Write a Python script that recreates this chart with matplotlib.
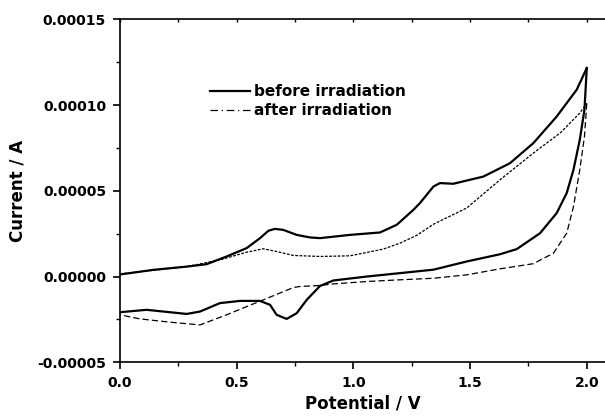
import matplotlib
matplotlib.use("Agg")
import matplotlib.pyplot as plt
from matplotlib.lines import Line2D
from matplotlib.ticker import MultipleLocator, FormatStrFormatter

# cyclic voltammograms, current in units of 1e-5 A
before_fwd_v = [0.0, 0.143, 0.286, 0.371, 0.457, 0.543, 0.6, 0.636, 0.664, 0.7, 0.757, 0.814,
                0.857, 0.986, 1.114, 1.186, 1.257, 1.285, 1.343, 1.371, 1.428, 1.557, 1.671,
                1.771, 1.871, 1.957, 2.0]
before_fwd_i = [0.12, 0.39, 0.58, 0.72, 1.17, 1.66, 2.24, 2.67, 2.78, 2.72, 2.43, 2.28,
                2.24, 2.43, 2.57, 3.02, 3.89, 4.28, 5.25, 5.45, 5.41, 5.83, 6.61,
                7.78, 9.33, 10.9, 12.16]
before_rev_v = [2.0, 1.99, 1.97, 1.943, 1.914, 1.871, 1.8, 1.7, 1.628, 1.486, 1.343, 1.2, 1.057,
                0.914, 0.857, 0.8, 0.757, 0.714, 0.671, 0.643, 0.6, 0.514, 0.428, 0.343,
                0.286, 0.214, 0.114, 0.0]
before_rev_i = [12.16, 9.73, 7.98, 6.23, 4.87, 3.7, 2.53, 1.6, 1.3, 0.88, 0.4, 0.2, 0.0,
                -0.23, -0.55, -1.36, -2.14, -2.47, -2.23, -1.65, -1.42, -1.42, -1.55, -2.04,
                -2.18, -2.08, -1.94, -2.08]

after_fwd_v = [0.0, 0.286, 0.428, 0.543, 0.614, 0.671, 0.743, 0.857, 0.986, 1.128, 1.2, 1.271,
               1.343, 1.486, 1.628, 1.771, 1.886, 1.97, 2.0]
after_fwd_i = [0.16, 0.58, 0.97, 1.42, 1.62, 1.46, 1.23, 1.17, 1.21, 1.6, 1.95, 2.4,
               3.05, 4.0, 5.64, 7.2, 8.37, 9.53, 10.1]
after_rev_v = [2.0, 1.99, 1.97, 1.943, 1.914, 1.857, 1.771, 1.7, 1.628, 1.486, 1.343, 1.2,
               1.057, 0.914, 0.857, 0.771, 0.743, 0.614, 0.543, 0.457, 0.343, 0.214, 0.086, 0.0]
after_rev_i = [10.1, 8.17, 6.23, 4.08, 2.53, 1.36, 0.75, 0.6, 0.45, 0.1, -0.1, -0.19,
               -0.29, -0.43, -0.52, -0.58, -0.64, -1.36, -1.75, -2.23, -2.82, -2.66, -2.47, -2.23]

scale = 1e-5

plt.rcParams['font.family'] = ['DejaVu Sans']
plt.rcParams['font.weight'] = 'bold'

fig = plt.figure(figsize=(6.05, 4.16), dpi=100)
ax = fig.add_axes([0.1983, 0.1291, 0.8017, 0.8245])

ax.plot(before_fwd_v, [i * scale for i in before_fwd_i], color='black', lw=1.6)
ax.plot(before_rev_v, [i * scale for i in before_rev_i], color='black', lw=1.6)
ax.plot(after_fwd_v, [i * scale for i in after_fwd_i], color='black', lw=0.9, dashes=(2.2, 1.2))
ax.plot(after_rev_v, [i * scale for i in after_rev_i], color='black', lw=0.9, dashes=(5, 2.5))

ax.set_xlim(0, 2.078)
ax.set_ylim(-0.00005, 0.00015)
ax.xaxis.set_major_locator(MultipleLocator(0.5))
ax.xaxis.set_minor_locator(MultipleLocator(0.25))
ax.yaxis.set_major_locator(MultipleLocator(0.00005))
ax.yaxis.set_minor_locator(MultipleLocator(0.000025))
ax.xaxis.set_major_formatter(FormatStrFormatter('%.1f'))
ax.yaxis.set_major_formatter(FormatStrFormatter('%.5f'))
ax.tick_params(which='major', length=5, width=1.2, labelsize=10, pad=5)
ax.tick_params(which='minor', length=3, width=1.0)
ax.spines['right'].set_visible(False)
for s in ['left', 'bottom', 'top']:
    ax.spines[s].set_linewidth(1.2)

top = ax.secondary_xaxis('top')
top.xaxis.set_major_locator(MultipleLocator(0.5))
top.xaxis.set_minor_locator(MultipleLocator(0.25))
top.tick_params(which='both', direction='in', length=2.5, width=1.0, labeltop=False)
top.spines['top'].set_visible(False)

ax.set_xlabel('Potential / V', fontsize=12, fontweight='bold', labelpad=3)
ax.set_ylabel('Current / A', fontsize=12, fontweight='bold', labelpad=8)

handles = [Line2D([], [], color='black', lw=1.6),
           Line2D([], [], color='black', lw=0.9, dashes=(6, 3, 1, 3))]
ax.legend(handles, ['before irradiation', 'after irradiation'], loc='upper left',
          bbox_to_anchor=(0.1856, 0.81), frameon=False, fontsize=11,
          handlelength=2.6, handletextpad=0.3, labelspacing=0.25, borderpad=0, borderaxespad=0)

fig.savefig('out.png', dpi=100)
